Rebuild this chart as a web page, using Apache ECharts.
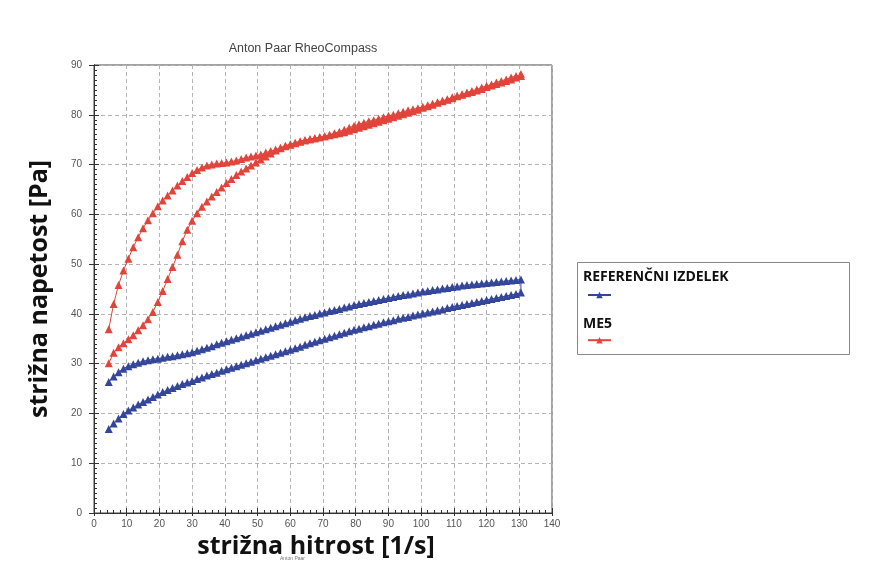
<!DOCTYPE html>
<html>
<head>
<meta charset="utf-8">
<script src="https://cdn.jsdelivr.net/npm/echarts@6/dist/echarts.min.js"></script>
<style>
  html, body { margin: 0; background: #fff; }
  #chart { width: 880px; height: 581px; }
</style>
</head>
<body>
<div id="chart"></div>
<script>
// strižna hitrost [1/s] - same points for the up and down ramp
const shearRate = [
  4.5, 6, 7.5, 9, 10.5, 12, 13.5, 15, 16.5, 18,
  19.5, 21, 22.5, 24, 25.5, 27, 28.5, 30, 31.5, 33,
  34.5, 36, 37.5, 39, 40.5, 42, 43.5, 45, 46.5, 48,
  49.5, 51, 52.5, 54, 55.5, 57, 58.5, 60, 61.5, 63,
  64.5, 66, 67.5, 69, 70.5, 72, 73.5, 75, 76.5, 78,
  79.5, 81, 82.5, 84, 85.5, 87, 88.5, 90, 91.5, 93,
  94.5, 96, 97.5, 99, 100.5, 102, 103.5, 105, 106.5, 108,
  109.5, 111, 112.5, 114, 115.5, 117, 118.5, 120, 121.5, 123,
  124.5, 126, 127.5, 129, 130.5
];

// REFERENČNI IZDELEK - spodnja veja (naraščanje)
const refUp = [
  16.9, 18.0, 19.0, 19.9, 20.6, 21.2, 21.8, 22.3, 22.8, 23.3,
  23.8, 24.3, 24.7, 25.1, 25.5, 25.9, 26.2, 26.5, 26.9, 27.2,
  27.6, 27.9, 28.2, 28.6, 28.9, 29.2, 29.5, 29.8, 30.1, 30.4,
  30.7, 31.0, 31.3, 31.6, 31.9, 32.2, 32.5, 32.8, 33.1, 33.4,
  33.8, 34.1, 34.4, 34.7, 35.0, 35.3, 35.6, 35.9, 36.2, 36.5,
  36.8, 37.0, 37.3, 37.5, 37.8, 38.0, 38.3, 38.5, 38.7, 39.0,
  39.2, 39.4, 39.7, 39.9, 40.1, 40.3, 40.5, 40.7, 40.9, 41.2,
  41.4, 41.6, 41.8, 42.0, 42.2, 42.4, 42.6, 42.8, 43.0, 43.2,
  43.4, 43.6, 43.8, 44.0, 44.3
];
// REFERENČNI IZDELEK - zgornja veja (padanje)
const refDown = [
  26.3, 27.4, 28.3, 29.0, 29.5, 29.9, 30.2, 30.5, 30.7, 30.9,
  31.0, 31.2, 31.4, 31.5, 31.7, 31.9, 32.1, 32.3, 32.6, 32.9,
  33.2, 33.5, 33.9, 34.2, 34.5, 34.8, 35.1, 35.4, 35.7, 36.0,
  36.3, 36.6, 36.9, 37.2, 37.5, 37.8, 38.1, 38.4, 38.7, 39.0,
  39.3, 39.6, 39.8, 40.1, 40.3, 40.6, 40.8, 41.0, 41.3, 41.5,
  41.8, 42.0, 42.2, 42.4, 42.6, 42.8, 43.0, 43.2, 43.4, 43.6,
  43.8, 43.9, 44.1, 44.3, 44.5, 44.6, 44.8, 44.9, 45.1, 45.2,
  45.4, 45.5, 45.7, 45.8, 45.9, 46.0, 46.1, 46.2, 46.3, 46.4,
  46.5, 46.6, 46.7, 46.8, 46.9
];

// ME5
const me5Up = [
  30.1, 32.2, 33.3, 34.1, 34.9, 35.7, 36.7, 37.7, 38.9, 40.4,
  42.4, 44.6, 47.0, 49.4, 51.9, 54.6, 56.9, 58.7, 60.2, 61.5,
  62.6, 63.6, 64.5, 65.4, 66.3, 67.1, 67.9, 68.6, 69.2, 69.8,
  70.4, 71.0, 71.6, 72.2, 72.8, 73.3, 73.7, 74.0, 74.3, 74.6,
  74.9, 75.1, 75.3, 75.5, 75.7, 75.9, 76.1, 76.3, 76.5, 76.8,
  77.1, 77.4, 77.7, 78.0, 78.3, 78.6, 78.9, 79.2, 79.5, 79.8,
  80.1, 80.4, 80.7, 81.0, 81.4, 81.7, 82.0, 82.4, 82.7, 83.0,
  83.3, 83.7, 84.0, 84.3, 84.6, 84.9, 85.2, 85.6, 85.9, 86.2,
  86.5, 86.8, 87.1, 87.5, 87.8
];
const me5Down = [
  36.9, 42.0, 45.8, 48.7, 51.1, 53.4, 55.4, 57.2, 58.8, 60.2,
  61.6, 62.8, 63.8, 64.8, 65.8, 66.7, 67.5, 68.3, 68.9, 69.4,
  69.8, 70.0, 70.2, 70.3, 70.4, 70.6, 70.8, 71.1, 71.4, 71.6,
  71.8, 72.0, 72.4, 72.7, 73.0, 73.4, 73.8, 74.1, 74.4, 74.7,
  74.9, 75.1, 75.3, 75.5, 75.7, 76.0, 76.3, 76.6, 77.0, 77.4,
  77.8, 78.1, 78.4, 78.7, 78.9, 79.2, 79.5, 79.8, 80.0, 80.3,
  80.6, 80.9, 81.1, 81.3, 81.6, 81.9, 82.2, 82.5, 82.8, 83.1,
  83.5, 83.8, 84.1, 84.5, 84.8, 85.1, 85.5, 85.8, 86.1, 86.5,
  86.8, 87.1, 87.5, 87.8, 88.2
];

const seriesNames = ['REFERENČNI IZDELEK', 'ME5'];
const seriesColors = ['#34469a', '#e1443a'];

// gor po spodnji veji, nazaj po zgornji
function loop(up, down) {
  let pts = [];
  for (let i = 0; i < shearRate.length; i++) pts.push([shearRate[i], up[i]]);
  for (let i = shearRate.length - 1; i >= 0; i--) pts.push([shearRate[i], down[i]]);
  return pts;
}

const tickFont = { color: '#555', fontSize: 10, fontFamily: 'Liberation Sans' };
const titleFont = { color: '#111', fontSize: 25, fontWeight: 'bold', fontFamily: 'Open Sans' };
const gridLine = { show: true, lineStyle: { color: '#b4b4b4', type: [4, 3], width: 1 } };

let myChart = echarts.init(document.getElementById('chart'));
let option = {
  animation: false,
  backgroundColor: '#fff',
  title: {
    text: 'Anton Paar RheoCompass',
    left: 298, top: 37, textAlign: 'center',
    textStyle: { color: '#444', fontSize: 12.5, fontWeight: 'normal', fontFamily: 'Liberation Sans' }
  },
  grid: {
    left: 94, top: 65, width: 458, height: 448,
    show: true, borderColor: '#444', borderWidth: 1
  },
  legend: {
    orient: 'vertical',
    left: 582, top: 286,
    itemWidth: 23, itemHeight: 8, itemGap: 38,
    data: seriesNames,
    formatter: () => '',
    textStyle: { fontSize: 8 }
  },
  xAxis: [{
    type: 'value', min: 0, max: 140, interval: 10,
    name: 'strižna hitrost [1/s]', nameLocation: 'middle', nameGap: 13,
    nameTextStyle: Object.assign({ padding: [0, 14, 0, 0] }, titleFont),
    axisLine: { show: true, onZero: false, lineStyle: { color: '#333' } },
    axisTick: { show: true, length: 3, lineStyle: { color: '#333' } },
    axisLabel: Object.assign({ margin: 6 }, tickFont),
    splitLine: gridLine
  }, {
    type: 'value', min: 0, max: 140, interval: 10, position: 'bottom',
    axisLine: { show: true, onZero: false, lineStyle: { color: '#333' } },
    axisTick: { show: true, inside: true, length: 5, lineStyle: { color: '#333' } },
    minorTick: { show: true, splitNumber: 5, length: 3, lineStyle: { color: '#333' } },
    axisLabel: { show: false },
    splitLine: { show: false }
  }],
  yAxis: [{
    type: 'value', min: 0, max: 90, interval: 10,
    name: 'strižna napetost [Pa]', nameLocation: 'middle', nameGap: 42,
    nameTextStyle: titleFont,
    axisLine: { show: true, onZero: false, lineStyle: { color: '#333' } },
    axisTick: { show: true, length: 5, lineStyle: { color: '#333' } },
    axisLabel: Object.assign({ margin: 12 }, tickFont),
    splitLine: gridLine
  }, {
    type: 'value', min: 0, max: 90, interval: 10, position: 'left',
    axisLine: { show: true, onZero: false, lineStyle: { color: '#333' } },
    axisTick: { show: true, inside: true, length: 5, lineStyle: { color: '#333' } },
    minorTick: { show: true, splitNumber: 10, length: 3, lineStyle: { color: '#333' } },
    axisLabel: { show: false },
    splitLine: { show: false }
  }],
  graphic: [
    { type: 'rect', left: 575, top: 260, shape: { width: 272, height: 92 },
      style: { fill: 'none', stroke: '#888', lineWidth: 1 } },
    { type: 'text', left: 583, top: 270,
      style: { text: seriesNames[0], fill: '#111', font: 'bold 14px "Open Sans"' } },
    { type: 'text', left: 583, top: 317,
      style: { text: seriesNames[1], fill: '#111', font: 'bold 14px "Open Sans"' } },
    { type: 'text', left: 280, top: 556,
      style: { text: 'Anton Paar', fill: '#777', font: '5px "Liberation Sans"' } }
  ],
  series: [{
    name: seriesNames[0], type: 'line',
    data: loop(refUp, refDown),
    symbol: 'triangle', symbolSize: 8, showSymbol: true,
    lineStyle: { width: 1, color: seriesColors[0] },
    itemStyle: { color: seriesColors[0] }
  }, {
    name: seriesNames[1], type: 'line',
    data: loop(me5Up, me5Down),
    symbol: 'triangle', symbolSize: 8, showSymbol: true,
    lineStyle: { width: 1, color: seriesColors[1] },
    itemStyle: { color: seriesColors[1] }
  }]
};
myChart.setOption(option);
</script>
</body>
</html>
